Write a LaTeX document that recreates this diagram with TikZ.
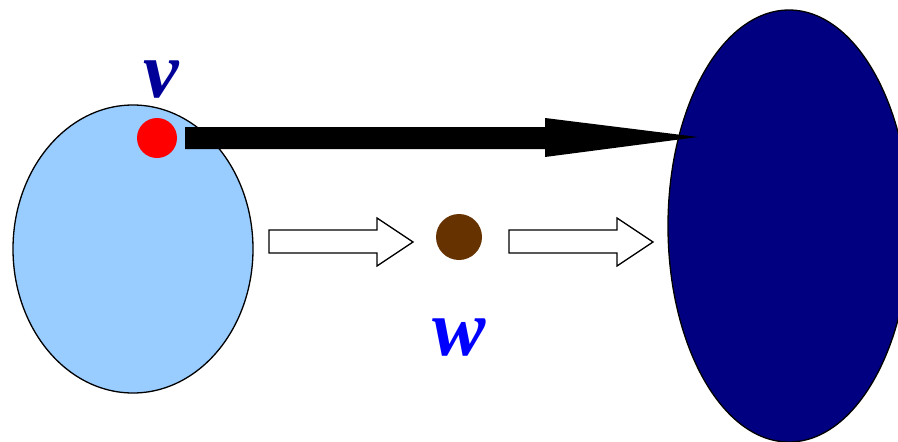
\documentclass[tikz,border=0pt]{standalone}
\usepackage{fontspec}
\setmainfont{Liberation Serif}
\definecolor{lightblue}{HTML}{99CCFF}
\definecolor{navy}{HTML}{000080}
\definecolor{brownish}{HTML}{663300}
\definecolor{vblue}{HTML}{000099}
\definecolor{wblue}{HTML}{0000FF}
\begin{document}
\begin{tikzpicture}[x=1pt,y=-1pt,
  blob/.style={draw=black,line width=1.3pt},
  dot/.style={circle,inner sep=0pt,draw=none},
  lbl/.style={font=\fontsize{80}{80}\selectfont\bfseries\itshape,inner sep=0pt},
  hollow/.style={draw=black,fill=white,line width=1.3pt,line join=miter}]
\useasboundingbox (0,0) rectangle (898,442);
% left ellipse
\draw[blob,fill=lightblue] (133,249) ellipse [x radius=120,y radius=144];
% right ellipse
\draw[blob,fill=navy] (789,226) ellipse [x radius=121,y radius=216];
% red dot
\node[dot,fill=red,minimum size=40pt] (v) at (157,138) {};
\node[lbl,text=vblue] (vl) at (161,80) {v};
% brown dot
\node[dot,fill=brownish,minimum size=46pt] (w) at (459,237) {};
\node[lbl,text=wblue] (wl) at (459,338) {w};
% black arrow
\fill[black] (185,127) -- (545,127) -- (545,118) -- (698,137) -- (545,157) -- (545,149) -- (185,149) -- cycle;
% hollow arrows
\draw[hollow] (269,230) -- (377,230) -- (377,218) -- (413,242) -- (377,266) -- (377,253) -- (269,253) -- cycle;
\draw[hollow] (509,230) -- (617,230) -- (617,218) -- (653,242) -- (617,266) -- (617,253) -- (509,253) -- cycle;
\end{tikzpicture}
\end{document}
